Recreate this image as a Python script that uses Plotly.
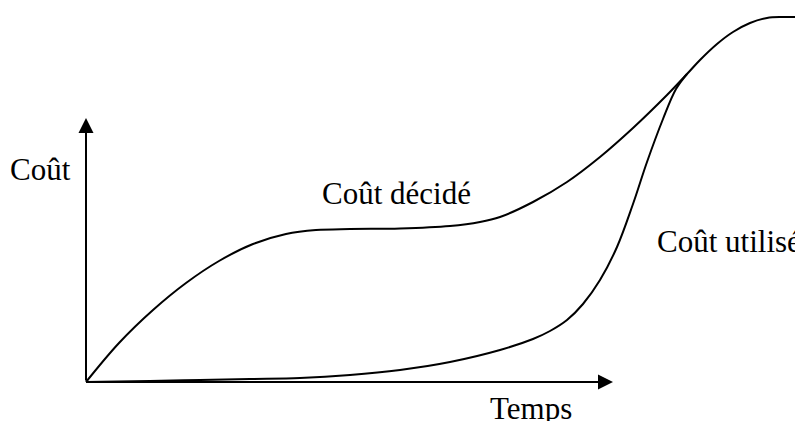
import plotly.graph_objects as go

# Coût décidé (time, cost)
decide_t = [0, 33, 67, 100, 133, 167, 200, 230, 264, 314, 364, 394, 414, 447, 481, 514,
            547, 581, 601, 614, 631, 647, 664, 681, 697, 717]
decide_c = [0, 39, 72, 99, 121, 138, 148, 152, 153, 153.5, 156, 160, 165, 180, 200, 225,
            254, 287, 308, 322, 338, 350, 359, 364, 365, 365]

# Coût utilisé (time, cost)
utilise_t = [0, 64, 114, 164, 214, 264, 314, 364, 414, 447, 464, 481, 497, 514,
             531, 547, 561, 577, 590, 601]
utilise_c = [0, 1, 2, 3, 4, 7, 12, 20, 32, 43, 51, 62, 78, 102,
             135, 178, 220, 263, 293, 308]

axis_x_end = 527
axis_y_end = 264

labels = ["Coût", "Coût décidé", "Coût utilisé", "Temps"]
label_x = [-13, 234, 569, 402]
label_y = [212.5, 188.5, 140.5, -26]
label_anchor = ["right", "left", "left", "left"]

fig = go.Figure()
fig.add_trace(go.Scatter(x=decide_t, y=decide_c, mode="lines",
                         line=dict(color="black", width=2, shape="spline", smoothing=1.0),
                         hoverinfo="skip"))
fig.add_trace(go.Scatter(x=utilise_t, y=utilise_c, mode="lines",
                         line=dict(color="black", width=2, shape="spline", smoothing=1.0),
                         hoverinfo="skip"))

# axes arrows
for (tx, ty) in [(0, axis_y_end), (axis_x_end, 0)]:
    fig.add_annotation(x=tx, y=ty, ax=0, ay=0, xref="x", yref="y", axref="x", ayref="y",
                       text="", showarrow=True, arrowhead=2, arrowwidth=2, arrowsize=1.5,
                       arrowcolor="black", standoff=0, startstandoff=0)

for txt, lx, ly, anc in zip(labels, label_x, label_y, label_anchor):
    fig.add_annotation(x=lx, y=ly, xref="x", yref="y", text=txt, showarrow=False,
                       xanchor=anc, yanchor="middle",
                       font=dict(family="Liberation Serif", size=31, color="black"))

# page body has an 8px margin: figure is 795x413 placed at (8, 8)
fig.update_layout(width=795, height=413, margin=dict(l=0, r=0, t=0, b=0),
                  paper_bgcolor="white", plot_bgcolor="white", showlegend=False,
                  xaxis=dict(range=[-78, 717], visible=False, fixedrange=True),
                  yaxis=dict(range=[-39, 374], visible=False, fixedrange=True))

fig.write_html("out.html", config={"displayModeBar": False})
